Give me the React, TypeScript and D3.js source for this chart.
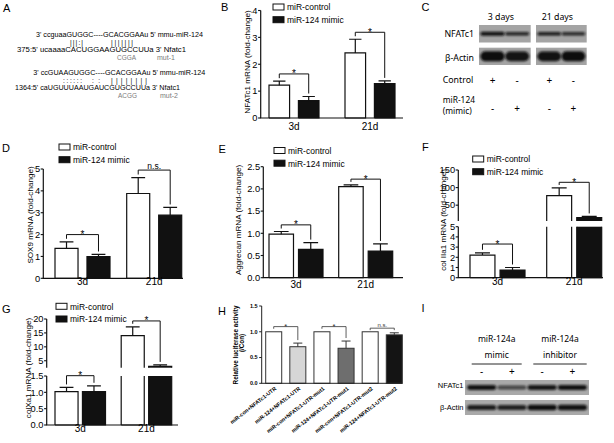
import React from 'react';
import * as d3 from 'd3';

const FONT = "'Liberation Sans', Arial, sans-serif";
const BLOT_FONT = "'Noto Sans', sans-serif";

// shared categories
const days = ['3d', '21d'];
const seriesNames = ['miR-control', 'miR-124 mimic'];

// B - NFATc1 mRNA
const nfatc1Ctrl = [1.22, 2.42];
const nfatc1CtrlErr = [0.15, 0.51];
const nfatc1Mimic = [0.65, 1.28];
const nfatc1MimicErr = [0.15, 0.1];
const nfatc1Sig = ['*', '*'];
const nfatc1SigAt = [1.64, 3.19];
const nfatc1Ticks = [0, 1, 2, 3, 4];

// D - SOX9 mRNA
const sox9Ctrl = [1.37, 3.88];
const sox9CtrlErr = [0.3, 0.73];
const sox9Mimic = [0.99, 2.89];
const sox9MimicErr = [0.1, 0.35];
const sox9Sig = ['*', 'n.s.'];
const sox9SigAt = [2.0, 4.95];
const sox9Ticks = [0, 1, 2, 3, 4, 5];

// E - Aggrecan mRNA
const aggCtrl = [0.98, 2.05];
const aggCtrlErr = [0.06, 0.04];
const aggMimic = [0.64, 0.6];
const aggMimicErr = [0.15, 0.16];
const aggSig = ['*', '*'];
const aggSigAt = [1.19, 2.22];
const aggTicks = [0, 0.5, 1, 1.5, 2, 2.5];

// F - col IIa1 mRNA (broken axis)
const col2Ctrl = [2.22, 77];
const col2CtrlErr = [0.22, 22];
const col2Mimic = [0.75, 15];
const col2MimicErr = [0.25, 3];
const col2Sig = ['*', '*'];
const col2SigAt = [3.3, 115];
const col2TicksLow = [0, 1, 2, 3, 4, 5];
const col2TicksHigh = [50, 100, 150];

// G - colXa1 mRNA (broken axis)
const col10Ctrl = [1.02, 14.0];
const col10CtrlErr = [0.13, 3.2];
const col10Mimic = [1.02, 3.0];
const col10MimicErr = [0.18, 0.5];
const col10Sig = ['*', '*'];
const col10SigAt = [1.51, 19.3];
const col10TicksLow = [0, 0.5, 1, 1.5];
const col10TicksHigh = [5, 10, 15, 20];

// H - luciferase
const lucLabels = [
  'miR-con+NFATc1-UTR',
  'miR-124+NFATc1-UTR',
  'miR-con+NFATc1-UTR-mut1',
  'miR-124+NFATc1-UTR-mut1',
  'miR-con+NFATc1-UTR-mut2',
  'miR-124+NFATc1-UTR-mut2',
];
const lucValues = [1, 0.71, 1, 0.68, 1, 0.94];
const lucErr = [0, 0.07, 0, 0.14, 0, 0.04];
const lucSig = ['*', '*', 'n.s.'];
const lucSigAt = [1.1, 1.1, 1.07];
const lucTicks = [0, 0.5, 1, 1.5];
const lucFill = ['#ffffff', '#d6d6d6', '#ffffff', '#6e6e6e', '#ffffff', '#141414'];

// C / I - western blots (relative band intensity)
const cTimes = ['3 days', '21 days'];
const cNfatc1Band = [0.95, 0.75, 0.85, 0.7];
const cActinBand = [1, 0.92, 0.95, 1];
const cControlSign = ['+', '-', '+', '-'];
const cMimicSign = ['-', '+', '-', '+'];
const iHeaders = [['miR-124a', 'mimic'], ['miR-124a', 'inhibitor']];
const iSign = ['-', '+', '-', '+'];
const iNfatc1Band = [0.95, 0.45, 0.9, 0.95];
const iActinBand = [0.85, 0.8, 1, 0.95];

interface Seg {
  lo: number; hi: number; bottom: number; top: number;
  ticks: number[]; fmt: (v: number) => string;
}

interface PanelProps {
  axisX: [number, number];
  barSpan: [number, number];
  groupW: number;
  innerPad: number;
  segs: Seg[];
  ctrl: number[]; ctrlErr: number[];
  mimic: number[]; mimicErr: number[];
  sig: string[]; sigAt: number[];
  title: string; titleX: number; titleY: number;
  legendX: number; legendY: number;
  labelY: number;
}

const BarPanel: React.FC<PanelProps> = (p) => {
  const scales = p.segs.map(s => d3.scaleLinear().domain([s.lo, s.hi]).range([s.bottom, s.top]));
  const yOf = (v: number) => {
    for (let k = p.segs.length - 1; k > 0; k--) {
      if (v >= p.segs[k].lo) return scales[k](v);
    }
    return scales[0](v);
  };
  const step = p.barSpan[1] - p.barSpan[0] - p.groupW;
  const gx = d3.scaleBand().domain(days).range(p.barSpan).paddingInner(1 - p.groupW / step).paddingOuter(0);
  const sx = d3.scaleBand().domain(seriesNames).range([0, gx.bandwidth()]).paddingInner(p.innerPad);
  const w = sx.bandwidth();
  const cap = w * 0.3;
  const vals = [[p.ctrl, p.ctrlErr], [p.mimic, p.mimicErr]];
  const fills = ['#ffffff', '#111111'];
  const x0 = p.axisX[0];

  return (
    <g fontFamily={FONT}>
      {/* bars */}
      {days.map((d, i) => seriesNames.map((s, j) => {
        const v = vals[j][0][i];
        const bx = (gx(d) as number) + (sx(s) as number);
        return p.segs.map((seg, k) => {
          const base = k === 0 ? 0 : seg.lo;
          if (v <= base) return null;
          const tv = Math.min(v, seg.hi);
          const yb = scales[k](base), yt = scales[k](tv);
          const openTop = v > seg.hi, openBottom = k > 0;
          const path = d3.path();
          path.moveTo(bx, yb); path.lineTo(bx, yt);
          if (openTop) path.moveTo(bx + w, yt); else path.lineTo(bx + w, yt);
          path.lineTo(bx + w, yb);
          if (!openBottom) path.lineTo(bx, yb);
          return (
            <g key={`${d}-${s}-${k}`}>
              <rect x={bx} y={yt} width={w} height={yb - yt} fill={fills[j]} />
              <path d={path.toString()} fill="none" stroke="#111" strokeWidth={1.2} />
            </g>
          );
        });
      }))}
      {/* error bars */}
      {days.map((d, i) => seriesNames.map((s, j) => {
        const v = vals[j][0][i], e = vals[j][1][i];
        const cx = (gx(d) as number) + (sx(s) as number) + w / 2;
        const y1 = yOf(v), y2 = yOf(v + e);
        return (
          <path key={`e-${d}-${s}`} d={`M${cx},${y1}V${y2}M${cx - cap},${y2}H${cx + cap}`}
            stroke="#111" strokeWidth={1.2} fill="none" />
        );
      }))}
      {/* significance */}
      {days.map((d, i) => {
        const cx0 = (gx(d) as number) + (sx(seriesNames[0]) as number) + w / 2;
        const cx1 = (gx(d) as number) + (sx(seriesNames[1]) as number) + w / 2;
        const yb = yOf(p.sigAt[i]);
        const yl = Math.max(yb + 2, yOf(p.ctrl[i] + p.ctrlErr[i]) - 3);
        const yr = Math.max(yb + 2, yOf(p.mimic[i] + p.mimicErr[i]) - 3);
        const star = p.sig[i] === '*';
        return (
          <g key={`sig-${d}`}>
            <path d={`M${cx0},${yl}V${yb}H${cx1}V${yr}`} stroke="#111" strokeWidth={1} fill="none" />
            <text x={(cx0 + cx1) / 2} y={star ? yb + 3.5 : yb - 1.5} fontSize={star ? 10 : 8.5}
              textAnchor="middle">{p.sig[i]}</text>
          </g>
        );
      })}
      {/* y axis */}
      {p.segs.map((seg, k) => (
        <g key={`ax-${k}`}>
          <line x1={x0} x2={x0} y1={seg.bottom} y2={seg.top} stroke="#111" strokeWidth={1.2} />
          {seg.ticks.map(t => (
            <g key={t}>
              <line x1={x0 - 2.6} x2={x0} y1={scales[k](t)} y2={scales[k](t)} stroke="#111" strokeWidth={1.1} />
              <text x={x0 - 3.2} y={scales[k](t)} dy="0.35em" fontSize={9.3} textAnchor="end">{seg.fmt(t)}</text>
            </g>
          ))}
        </g>
      ))}
      {/* x axis */}
      <line x1={x0 - 0.6} x2={p.axisX[1]} y1={p.segs[0].bottom} y2={p.segs[0].bottom} stroke="#111" strokeWidth={1.2} />
      {days.map(d => (
        <text key={`l-${d}`} x={(gx(d) as number) + gx.bandwidth() / 2} y={p.labelY} fontSize={10}
          textAnchor="middle">{d}</text>
      ))}
      {/* y title */}
      <text transform={`translate(${p.titleX},${p.titleY}) rotate(-90)`} dy="0.32em" fontSize={8.1}
        textAnchor="middle">{p.title}</text>
      {/* legend */}
      {seriesNames.map((s, j) => (
        <g key={`lg-${s}`}>
          <rect x={p.legendX} y={p.legendY + j * 12.7} width={11} height={6} fill={fills[j]} stroke="#111" strokeWidth={1} />
          <text x={p.legendX + 14} y={p.legendY + j * 12.7 + 6.4} fontSize={8.5}>{s}</text>
        </g>
      ))}
    </g>
  );
};

const LucPanel: React.FC = () => {
  const y = d3.scaleLinear().domain([0, 1.5]).range([383.3, 306]);
  const x = d3.scaleBand().domain(lucLabels).range([265.7, 402.3]).paddingInner(0.336).paddingOuter(0);
  const w = x.bandwidth();
  const ax = 261.7;
  const cxOf = (i: number) => (x(lucLabels[i]) as number) + w / 2;
  return (
    <g fontFamily={FONT}>
      {lucLabels.map((l, i) => (
        <rect key={l} x={x(l)} y={y(lucValues[i])} width={w} height={y(0) - y(lucValues[i])}
          fill={lucFill[i]} stroke="#333" strokeWidth={1} />
      ))}
      {lucLabels.map((l, i) => lucErr[i] > 0 ? (
        <path key={`e-${l}`} d={`M${cxOf(i)},${y(lucValues[i])}V${y(lucValues[i] + lucErr[i])}M${cxOf(i) - 4.5},${y(lucValues[i] + lucErr[i])}H${cxOf(i) + 4.5}`}
          stroke="#333" strokeWidth={1} fill="none" />
      ) : null)}
      {lucSig.map((s, k) => {
        const a = cxOf(2 * k), b = cxOf(2 * k + 1);
        const yb = y(lucSigAt[k]);
        const yl = Math.max(yb + 2, y(lucValues[2 * k] + lucErr[2 * k]) - 3);
        const yr = Math.max(yb + 2, y(lucValues[2 * k + 1] + lucErr[2 * k + 1]) - 3);
        return (
          <g key={`s-${k}`}>
            <path d={`M${a},${yl}V${yb}H${b}V${yr}`} stroke="#333" strokeWidth={0.8} fill="none" />
            <text x={(a + b) / 2} y={s === '*' ? yb + 2.8 : yb - 1.2} fontSize={s === '*' ? 7.5 : 6}
              textAnchor="middle" fill="#333">{s}</text>
          </g>
        );
      })}
      <line x1={ax} x2={ax} y1={y(0)} y2={y(1.5)} stroke="#222" strokeWidth={1} />
      <line x1={ax - 0.5} x2={402.3} y1={y(0)} y2={y(0)} stroke="#222" strokeWidth={1} />
      {lucTicks.map(t => (
        <g key={t}>
          <line x1={ax - 2.5} x2={ax} y1={y(t)} y2={y(t)} stroke="#222" strokeWidth={1} />
          <text x={ax - 4} y={y(t)} dy="0.35em" fontSize={5.5} fontWeight="bold" textAnchor="end">{d3.format('.1f')(t)}</text>
        </g>
      ))}
      {lucLabels.map((l, i) => (
        <text key={`xl-${l}`} transform={`translate(${cxOf(i) + 3},${y(0) + 6}) rotate(-38)`} fontSize={5.4}
          fontWeight="bold" textAnchor="end">{l}</text>
      ))}
      <text transform={`translate(235.5,345) rotate(-90)`} dy="0.35em" fontSize={6.3} fontWeight="bold"
        textAnchor="middle">Relative luciferase activity</text>
      <text transform={`translate(241.7,343) rotate(-90)`} dy="0.35em" fontSize={6.3} fontWeight="bold"
        textAnchor="middle">(/Con)</text>
    </g>
  );
};

interface BlotProps { x0: number; x1: number; y0: number; y1: number; bands: number[]; bandH: number; fill: string; }

const Blot: React.FC<BlotProps> = ({ x0, x1, y0, y1, bands, bandH, fill }) => {
  const lx = d3.scaleBand<number>().domain(d3.range(bands.length)).range([x0, x1]).padding(0.1);
  const cy = (y0 + y1) / 2;
  return (
    <g>
      <rect x={x0} y={y0} width={x1 - x0} height={y1 - y0} fill={fill} />
      {bands.map((b, i) => (
        <rect key={i} x={(lx(i) as number) - 1} y={cy - (bandH * (0.55 + 0.45 * b)) / 2}
          width={lx.bandwidth() + 2} height={bandH * (0.55 + 0.45 * b)} rx={bandH / 2}
          fill="#0d0d0d" opacity={0.35 + 0.65 * b} filter="url(#blur)" />
      ))}
    </g>
  );
};

const laneCenters = (x0: number, x1: number, n: number) => {
  const lx = d3.scaleBand<number>().domain(d3.range(n)).range([x0, x1]).padding(0.1);
  return d3.range(n).map(i => (lx(i) as number) + lx.bandwidth() / 2);
};

const PanelC: React.FC = () => {
  const boxes: [number, number][] = [[479, 530.7], [536, 586.7]];
  const centers = boxes.flatMap(b => laneCenters(b[0], b[1], 2));
  return (
    <g fontFamily={BLOT_FONT} fontSize={8.8}>
      {boxes.map((b, k) => (
        <g key={k}>
          <text x={(b[0] + b[1]) / 2 - 4} y={20} textAnchor="middle">{cTimes[k]}</text>
          <Blot x0={b[0]} x1={b[1]} y0={25} y1={42.5} bands={cNfatc1Band.slice(2 * k, 2 * k + 2)} bandH={4} fill="#a4a4a4" />
          <Blot x0={b[0]} x1={b[1]} y0={47.7} y1={65} bands={cActinBand.slice(2 * k, 2 * k + 2)} bandH={10} fill="#a4a4a4" />
        </g>
      ))}
      <text x={474} y={37} textAnchor="end">NFATc1</text>
      <text x={474} y={60.5} textAnchor="end">β-Actin</text>
      <text x={442.7} y={83}>Control</text>
      <text x={442.7} y={102.5} fontSize={8.4}>miR-124</text>
      <text x={442.7} y={113.5} fontSize={8.4}>(mimic)</text>
      {centers.map((c, i) => (
        <g key={i} fontSize={10}>
          <text x={c} y={83.5} textAnchor="middle">{cControlSign[i]}</text>
          <text x={c} y={111.5} textAnchor="middle">{cMimicSign[i]}</text>
        </g>
      ))}
    </g>
  );
};

const PanelI: React.FC = () => {
  const centers = laneCenters(465, 589, 4);
  const lines: [number, number][] = [[471.7, 521.7], [533.3, 586.7]];
  return (
    <g fontFamily={BLOT_FONT}>
      {lines.map((l, k) => (
        <g key={k}>
          <text x={(l[0] + l[1]) / 2} y={341.7} fontSize={8.5} textAnchor="middle">{iHeaders[k][0]}</text>
          <text x={(l[0] + l[1]) / 2} y={358.3} fontSize={8.5} textAnchor="middle">{iHeaders[k][1]}</text>
          <line x1={l[0]} x2={l[1]} y1={364} y2={364} stroke="#111" strokeWidth={0.9} />
        </g>
      ))}
      {centers.map((c, i) => (
        <text key={i} x={c} y={374.5} fontSize={10} textAnchor="middle">{iSign[i]}</text>
      ))}
      <Blot x0={465} x1={589} y0={380} y1={395} bands={iNfatc1Band} bandH={5} fill="#a9a9a9" />
      <Blot x0={465} x1={589} y0={400} y1={415} bands={iActinBand} bandH={5.5} fill="#a9a9a9" />
      <text x={463.5} y={388} fontSize={7.5} fontFamily={FONT} textAnchor="end">NFATc1</text>
      <text x={463.5} y={410} fontSize={7.5} fontFamily={FONT} textAnchor="end">β-Actin</text>
    </g>
  );
};

const PanelA: React.FC = () => (
  <g fontFamily={FONT} fontSize={7}>
    <text x={36} y={37} textLength={167} lengthAdjust="spacingAndGlyphs">3' ccguaaGUGGC----GCACGGAAu 5' mmu-miR-124</text>
    <text x={70} y={45} fontSize={6.5} textLength={13} lengthAdjust="spacing">|||:|</text>
    <text x={111} y={45} fontSize={6.5} textLength={22} lengthAdjust="spacing">|||||||</text>
    <text x={17} y={52} textLength={169} lengthAdjust="spacingAndGlyphs">375:5' ucaaaaCACUGGAAGUGCCUUa 3' Nfatc1</text>
    <text x={117} y={60} fill="#7a7a7a" textLength={19} lengthAdjust="spacingAndGlyphs">CGGA</text>
    <text x={157} y={60} fill="#7a7a7a">mut-1</text>
    <text x={33.3} y={75} textLength={172} lengthAdjust="spacingAndGlyphs">3' ccGUAAGUGGC----GCACGGAAu 5' mmu-miR-124</text>
    <text x={63} y={83} fontSize={6.5} textLength={19} lengthAdjust="spacing">::::::</text>
    <text x={92} y={83} fontSize={6.5} textLength={8} lengthAdjust="spacing">::</text>
    <text x={111} y={83} fontSize={6.5} textLength={36} lengthAdjust="spacing">||||||||</text>
    <text x={15} y={90} textLength={165} lengthAdjust="spacingAndGlyphs">1364:5' caUGUUUAAUGAUCGUGCCUUa 3' Nfatc1</text>
    <text x={118} y={98} fill="#7a7a7a" textLength={19} lengthAdjust="spacingAndGlyphs">ACGG</text>
    <text x={160} y={98} fill="#7a7a7a">mut-2</text>
  </g>
);

const panelLetters = ['A', 'B', 'C', 'D', 'E', 'F', 'G', 'H', 'I'];
const letterPos: [number, number][] = [
  [3, 12], [221, 11], [421.5, 10.5], [2, 152], [218.5, 153], [422, 151], [2, 313], [218, 315], [421.5, 312],
];

const intFmt = d3.format('d');
const oneFmt = d3.format('.1f');

export default function App() {
  return (
    <svg width={614} height={443} style={{ position: 'absolute', left: 0, top: 0, background: '#fff' }}>
      <defs>
        <filter id="blur" x="-20%" y="-60%" width="140%" height="220%">
          <feGaussianBlur stdDeviation="0.9" />
        </filter>
      </defs>
      <rect width={614} height={443} fill="#fff" />
      {panelLetters.map((l, i) => (
        <text key={l} x={letterPos[i][0]} y={letterPos[i][1]} fontFamily={FONT} fontSize={11}>{l}</text>
      ))}
      <PanelA />
      <BarPanel axisX={[260.7, 403]} barSpan={[269, 395]} groupW={50} innerPad={0.3}
        segs={[{ lo: 0, hi: 4, bottom: 118, top: 10.5, ticks: nfatc1Ticks, fmt: intFmt }]}
        ctrl={nfatc1Ctrl} ctrlErr={nfatc1CtrlErr} mimic={nfatc1Mimic} mimicErr={nfatc1MimicErr}
        sig={nfatc1Sig} sigAt={nfatc1SigAt} title="NFATc1 mRNA (fold-change)" titleX={247.5} titleY={62}
        legendX={273} legendY={4} labelY={130} />
      <PanelC />
      <BarPanel axisX={[43.3, 183]} barSpan={[55, 181.7]} groupW={55} innerPad={0.28}
        segs={[{ lo: 0, hi: 5, bottom: 278.3, top: 169, ticks: sox9Ticks, fmt: intFmt }]}
        ctrl={sox9Ctrl} ctrlErr={sox9CtrlErr} mimic={sox9Mimic} mimicErr={sox9MimicErr}
        sig={sox9Sig} sigAt={sox9SigAt} title="SOX9 mRNA (fold-change)" titleX={30.5} titleY={215}
        legendX={59} legendY={144} labelY={284.5} />
      <BarPanel axisX={[263.3, 403]} barSpan={[269, 392.7]} groupW={54} innerPad={0.17}
        segs={[{ lo: 0, hi: 2.5, bottom: 277.7, top: 166.7, ticks: aggTicks, fmt: oneFmt }]}
        ctrl={aggCtrl} ctrlErr={aggCtrlErr} mimic={aggMimic} mimicErr={aggMimicErr}
        sig={aggSig} sigAt={aggSigAt} title="Aggrecan mRNA (fold-change)" titleX={238} titleY={220}
        legendX={274} legendY={147.5} labelY={288} />
      <BarPanel axisX={[458.3, 603]} barSpan={[470, 601.7]} groupW={55} innerPad={0.17}
        segs={[
          { lo: 0, hi: 5, bottom: 277.7, top: 226.7, ticks: col2TicksLow, fmt: intFmt },
          { lo: 5, hi: 150, bottom: 221, top: 170, ticks: col2TicksHigh, fmt: intFmt },
        ]}
        ctrl={col2Ctrl} ctrlErr={col2CtrlErr} mimic={col2Mimic} mimicErr={col2MimicErr}
        sig={col2Sig} sigAt={col2SigAt} title="col IIa1 mRNA (fold-change)" titleX={443} titleY={220}
        legendX={472.7} legendY={156} labelY={285} />
      <BarPanel axisX={[46.7, 178]} barSpan={[55, 171.7]} groupW={50.5} innerPad={0.16}
        segs={[
          { lo: 0, hi: 1.5, bottom: 425, top: 376, ticks: col10TicksLow, fmt: oneFmt },
          { lo: 2.5, hi: 20, bottom: 367.7, top: 319, ticks: col10TicksHigh, fmt: intFmt },
        ]}
        ctrl={col10Ctrl} ctrlErr={col10CtrlErr} mimic={col10Mimic} mimicErr={col10MimicErr}
        sig={col10Sig} sigAt={col10SigAt} title="colXa1 mRNA (fold-change)" titleX={28} titleY={368}
        legendX={56} legendY={303.3} labelY={432.3} />
      <LucPanel />
      <PanelI />
    </svg>
  );
}
